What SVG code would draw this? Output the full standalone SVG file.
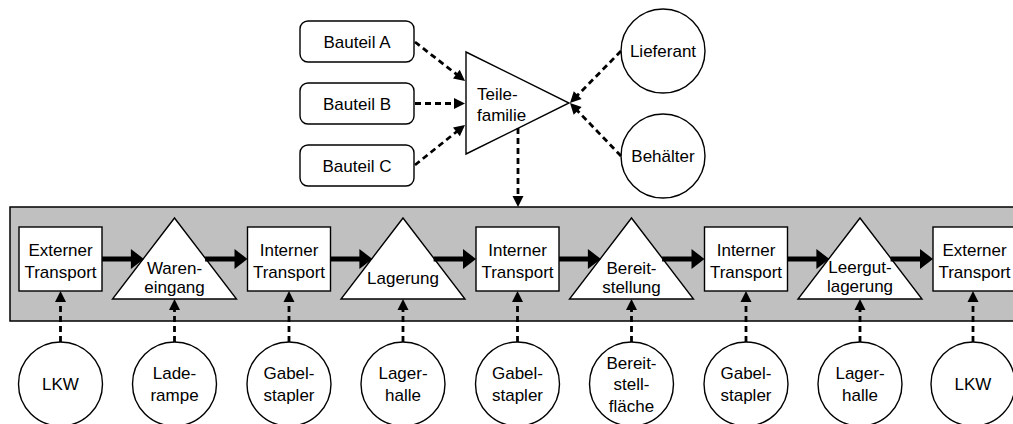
<svg xmlns="http://www.w3.org/2000/svg" width="1013" height="424" viewBox="0 0 1013 424">
<style>
text{font-family:"Liberation Sans",Arial,sans-serif;font-size:17px;fill:#000;text-anchor:middle}
.s{fill:#fff;stroke:#000;stroke-width:1.4}
.d{fill:none;stroke:#000;stroke-width:2.8;stroke-dasharray:6 4}
.a{fill:none;stroke:#000;stroke-width:5}
</style>
<defs>
<marker id="ad" markerUnits="userSpaceOnUse" viewBox="-1 -7 14 14" markerWidth="14" markerHeight="14" refX="6" refY="0" orient="auto"><path d="M0,-5.5 L11,0 L0,5.5 Z" fill="#000"/></marker>
<marker id="as" markerUnits="userSpaceOnUse" viewBox="-1 -11 15 22" markerWidth="15" markerHeight="22" refX="7" refY="0" orient="auto"><path d="M0,-10 L13,0 L0,10 Z" fill="#000"/></marker>
</defs>
<rect id="band" x="10" y="207" width="1010" height="114" fill="#c0c0c0" stroke="#000" stroke-width="1.5"/>
<g id="bauteilA"><rect class="s" x="300" y="21" width="114" height="41" rx="8"/><text x="357" y="48">Bauteil A</text></g>
<g id="bauteilB"><rect class="s" x="300" y="83" width="114" height="41" rx="8"/><text x="357" y="110">Bauteil B</text></g>
<g id="bauteilC"><rect class="s" x="300" y="145" width="114" height="41" rx="8"/><text x="357" y="172">Bauteil C</text></g>
<g id="teilefamilie"><path class="s" d="M466,52 L569,103 L466,154 Z"/><text x="477" y="100" style="text-anchor:start">Teile-</text><text x="477" y="121" style="text-anchor:start">familie</text></g>
<g id="lieferant"><circle class="s" cx="663" cy="51" r="42"/><text x="663" y="57">Lieferant</text></g>
<g id="behaelter"><circle class="s" cx="663" cy="156" r="42"/><text x="663" y="162">Behälter</text></g>
<g id="p1"><rect class="s" x="19" y="227" width="83" height="64"/><text x="60.5" y="256">Externer</text><text x="60.5" y="278">Transport</text></g>
<g id="p2"><path class="s" d="M174.5,218 L236.5,299 L112.5,299 Z"/><text x="174.5" y="274">Waren-</text><text x="174.5" y="293">eingang</text></g>
<g id="p3"><rect class="s" x="247.5" y="227" width="83" height="64"/><text x="289" y="256">Interner</text><text x="289" y="278">Transport</text></g>
<g id="p4"><path class="s" d="M403,218 L465,299 L341,299 Z"/><text x="403" y="284">Lagerung</text></g>
<g id="p5"><rect class="s" x="476" y="227" width="83" height="64"/><text x="517.5" y="256">Interner</text><text x="517.5" y="278">Transport</text></g>
<g id="p6"><path class="s" d="M631.5,218 L693.5,299 L569.5,299 Z"/><text x="631.5" y="274">Bereit-</text><text x="631.5" y="293">stellung</text></g>
<g id="p7"><rect class="s" x="704.5" y="227" width="83" height="64"/><text x="746" y="256">Interner</text><text x="746" y="278">Transport</text></g>
<g id="p8"><path class="s" d="M860,218 L922,299 L798,299 Z"/><text x="860" y="273">Leergut-</text><text x="860" y="292">lagerung</text></g>
<g id="p9"><rect class="s" x="933" y="227" width="83" height="64"/><text x="974.5" y="256">Externer</text><text x="974.5" y="278">Transport</text></g>
<g id="r1"><circle class="s" cx="60.5" cy="384" r="42"/><text x="60.5" y="390">LKW</text></g>
<g id="r2"><circle class="s" cx="174.5" cy="384" r="42"/><text x="174.5" y="379">Lade-</text><text x="174.5" y="401">rampe</text></g>
<g id="r3"><circle class="s" cx="289" cy="384" r="42"/><text x="289" y="379">Gabel-</text><text x="289" y="401">stapler</text></g>
<g id="r4"><circle class="s" cx="403" cy="384" r="42"/><text x="403" y="379">Lager-</text><text x="403" y="401">halle</text></g>
<g id="r5"><circle class="s" cx="517.5" cy="384" r="42"/><text x="517.5" y="379">Gabel-</text><text x="517.5" y="401">stapler</text></g>
<g id="r6"><circle class="s" cx="631.5" cy="384" r="42"/><text x="631.5" y="368.5">Bereit-</text><text x="631.5" y="390">stell-</text><text x="631.5" y="411.5">fläche</text></g>
<g id="r7"><circle class="s" cx="746" cy="384" r="42"/><text x="746" y="379">Gabel-</text><text x="746" y="401">stapler</text></g>
<g id="r8"><circle class="s" cx="860" cy="384" r="42"/><text x="860" y="379">Lager-</text><text x="860" y="401">halle</text></g>
<g id="r9"><circle class="s" cx="973" cy="384" r="42"/><text x="973" y="390">LKW</text></g>
<g id="connectors">
<path class="d" marker-end="url(#ad)" d="M415,42 L461.1,77.9"/>
<path class="d" marker-end="url(#ad)" d="M415,103.5 L460,103.5"/>
<path class="d" marker-end="url(#ad)" d="M415,165 L461.1,128.1"/>
<path class="d" marker-end="url(#ad)" d="M621,51 L573.5,99.4"/>
<path class="d" marker-end="url(#ad)" d="M621,156 L573.5,106.6"/>
<path class="d" marker-end="url(#ad)" d="M518,128 L518,202"/>
<path class="a" marker-end="url(#as)" d="M102,259 L137.9,259"/>
<path class="a" marker-end="url(#as)" d="M205.1,259 L241.5,259"/>
<path class="a" marker-end="url(#as)" d="M330.5,259 L366.4,259"/>
<path class="a" marker-end="url(#as)" d="M433.6,259 L470,259"/>
<path class="a" marker-end="url(#as)" d="M559,259 L594.9,259"/>
<path class="a" marker-end="url(#as)" d="M662.1,259 L698.5,259"/>
<path class="a" marker-end="url(#as)" d="M787.5,259 L823.4,259"/>
<path class="a" marker-end="url(#as)" d="M890.6,259 L927,259"/>
<path class="d" marker-end="url(#ad)" d="M60.5,342 L60.5,296"/>
<path class="d" marker-end="url(#ad)" d="M174.5,342 L174.5,304"/>
<path class="d" marker-end="url(#ad)" d="M289,342 L289,296"/>
<path class="d" marker-end="url(#ad)" d="M403,342 L403,304"/>
<path class="d" marker-end="url(#ad)" d="M517.5,342 L517.5,296"/>
<path class="d" marker-end="url(#ad)" d="M631.5,342 L631.5,304"/>
<path class="d" marker-end="url(#ad)" d="M746,342 L746,296"/>
<path class="d" marker-end="url(#ad)" d="M860,342 L860,304"/>
<path class="d" marker-end="url(#ad)" d="M973,342 L973,296"/>
</g>
</svg>
